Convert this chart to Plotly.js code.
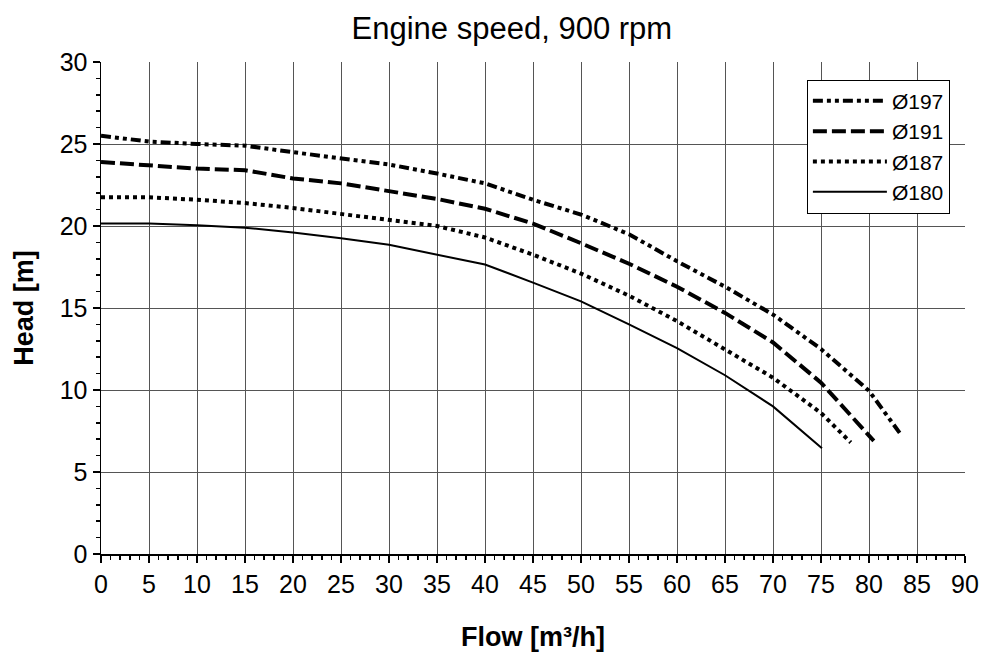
<!DOCTYPE html>
<html>
<head>
<meta charset="utf-8">
<script src="https://cdn.plot.ly/plotly-3.0.1.min.js"></script>
<style>html,body{margin:0;padding:0;background:#fff;}#chart{width:992px;height:654px;}</style>
</head>
<body>
<div id="chart"></div>
<script>
// Data
const seriesNames = ["Ø197", "Ø191", "Ø187", "Ø180"];
const flow197 = [0, 5, 10, 15, 20, 25, 30, 35, 40, 45, 50, 55, 60, 65, 70, 75, 80, 83.3];
const head197 = [25.5, 25.15, 25.0, 24.9, 24.5, 24.1, 23.75, 23.2, 22.6, 21.6, 20.7, 19.5, 17.85, 16.3, 14.6, 12.5, 9.95, 7.3];
const flow191 = [0, 5, 10, 15, 20, 25, 30, 35, 40, 45, 50, 55, 60, 65, 70, 75, 80.5];
const head191 = [23.9, 23.7, 23.5, 23.4, 22.9, 22.6, 22.15, 21.65, 21.05, 20.15, 18.95, 17.7, 16.3, 14.7, 12.9, 10.45, 6.9];
const flow187 = [0, 5, 10, 15, 20, 25, 30, 35, 40, 45, 50, 55, 60, 65, 70, 75, 78.1];
const head187 = [21.75, 21.75, 21.6, 21.4, 21.1, 20.75, 20.35, 20.0, 19.3, 18.25, 17.1, 15.75, 14.2, 12.5, 10.75, 8.6, 6.8];
const flow180 = [0, 5, 10, 15, 20, 25, 30, 35, 40, 45, 50, 55, 60, 65, 70, 75.1];
const head180 = [20.15, 20.15, 20.05, 19.9, 19.6, 19.25, 18.85, 18.26, 17.65, 16.55, 15.4, 14.0, 12.55, 10.9, 9.0, 6.45];

const FONT = "Liberation Sans, Arial, sans-serif";

const traces = [
  {x: flow197, y: head197, name: seriesNames[0], mode: "lines",
   line: {color: "#000", width: 4, dash: "10px,4px,4px,4px,4px,4px"}},
  {x: flow191, y: head191, name: seriesNames[1], mode: "lines",
   line: {color: "#000", width: 4, dash: "14px,5px"}},
  {x: flow187, y: head187, name: seriesNames[2], mode: "lines",
   line: {color: "#000", width: 4, dash: "4px,4px"}},
  {x: flow180, y: head180, name: seriesNames[3], mode: "lines",
   line: {color: "#000", width: 2}}
];

const layout = {
  width: 992, height: 654,
  paper_bgcolor: "#fff", plot_bgcolor: "#fff",
  margin: {l: 101, r: 27, t: 62, b: 100},
  font: {family: FONT, color: "#000"},
  title: {text: "Engine speed, 900 rpm", font: {family: FONT, size: 31, color: "#000"},
          x: 0.516, xanchor: "center", xref: "container", y: 0.957, yanchor: "middle"},
  showlegend: true,
  legend: {x: 0.817, xanchor: "left", y: 0.964, yanchor: "top",
           bgcolor: "#fff", bordercolor: "#000", borderwidth: 1,
           font: {family: FONT, size: 21, color: "#000"},
           itemwidth: 74, tracegroupgap: 0},
  xaxis: {range: [0, 90], dtick: 5, tick0: 0,
          showgrid: true, gridcolor: "#555", gridwidth: 1,
          showline: true, linecolor: "#000", linewidth: 1.5,
          zeroline: false,
          ticks: "outside", ticklen: 7, tickcolor: "#000", tickwidth: 1.5,
          tickfont: {family: FONT, size: 25, color: "#000"},
          minor: {dtick: 1, ticks: "outside", ticklen: 4, tickcolor: "#000", showgrid: false},
          title: {text: "<b>Flow [m³/h]</b>", font: {family: FONT, size: 27, color: "#000"}, standoff: 30}},
  yaxis: {range: [0, 30], dtick: 5, tick0: 0,
          showgrid: true, gridcolor: "#555", gridwidth: 1,
          showline: true, linecolor: "#000", linewidth: 1.5,
          zeroline: false,
          ticks: "outside", ticklen: 7, tickcolor: "#000", tickwidth: 1.5,
          tickfont: {family: FONT, size: 25, color: "#000"},
          minor: {dtick: 1, ticks: "outside", ticklen: 4, tickcolor: "#000", showgrid: false},
          title: {text: "<b>Head [m]</b>", font: {family: FONT, size: 27, color: "#000"}, standoff: 18}},
  xaxis2: {range: [0, 90], overlaying: "x", anchor: "y", side: "bottom",
           showgrid: false, zeroline: false, showline: false, showticklabels: false,
           ticks: "", dtick: 5,
           minor: {dtick: 1, ticks: "inside", ticklen: 4, tickcolor: "#000", showgrid: false}},
  yaxis2: {range: [0, 30], overlaying: "y", anchor: "x", side: "left",
           showgrid: false, zeroline: false, showline: false, showticklabels: false,
           ticks: "", dtick: 5,
           minor: {dtick: 1, ticks: "inside", ticklen: 4, tickcolor: "#000", showgrid: false}}
};

Plotly.newPlot("chart", traces, layout, {displayModeBar: false, staticPlot: true});
</script>
</body>
</html>
